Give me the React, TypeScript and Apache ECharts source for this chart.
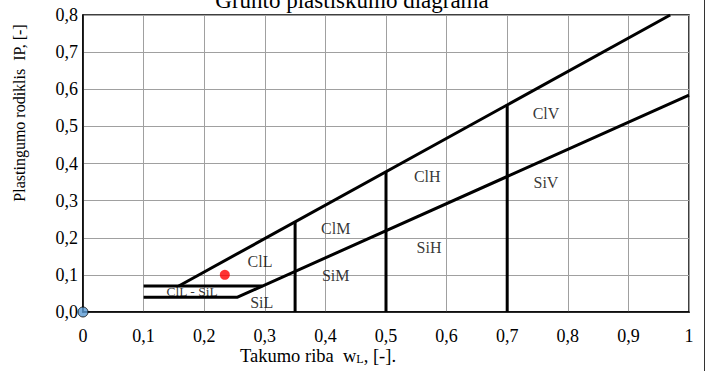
import React, { useEffect, useRef } from "react";
import * as echarts from "echarts";

const xTicks = [0, 0.1, 0.2, 0.3, 0.4, 0.5, 0.6, 0.7, 0.8, 0.9, 1];
const yTicks = [0, 0.1, 0.2, 0.3, 0.4, 0.5, 0.6, 0.7, 0.8];

// boundary lines of the plasticity chart [wL, IP]
const upperLine = [[0.158, 0.07], [0.969, 0.8]];
const aLine = [[0.1, 0.04], [0.255, 0.04], [1, 0.584]];
const clSiLine = [[0.1, 0.07], [0.296, 0.07]];
const verticalX = [0.35, 0.5, 0.7];
const verticalTop = [0.243, 0.378, 0.558];

const zoneNames = ["ClL", "SiL", "ClM", "SiM", "ClH", "SiH", "ClV", "SiV"];
const zoneX = [0.292, 0.295, 0.417, 0.417, 0.568, 0.571, 0.764, 0.764];
const zoneY = [0.135, 0.025, 0.224, 0.097, 0.364, 0.175, 0.534, 0.35];
const mixLabel = { name: "ClL - SiL", x: 0.18, y: 0.054 };

const samplePoint = [0.234, 0.1];
const originPoint = [0, 0];

const fmt = (v: number) => (v === 0 ? "0" : v === 1 ? "1" : v.toFixed(1).replace(".", ","));
const fmtY = (v: number) => v.toFixed(1).replace(".", ",");

const FONT = "Liberation Serif";

export default function App() {
  const ref = useRef<HTMLDivElement>(null);
  useEffect(() => {
    document.body.style.margin = "0";
    const chart = echarts.init(ref.current!, null, { renderer: "svg" });
    const lineStyle = { color: "#000", width: 3 };
    const mkLine = (data: number[][]) => ({
      type: "line",
      data,
      symbol: "none",
      lineStyle,
      silent: true,
      z: 3,
    });
    const series: any[] = [
      mkLine(upperLine),
      mkLine(aLine),
      mkLine(clSiLine),
      ...verticalX.map((x, i) => mkLine([[x, 0], [x, verticalTop[i]]])),
      {
        type: "scatter",
        symbolSize: 0,
        data: zoneNames.map((n, i) => ({ name: n, value: [zoneX[i], zoneY[i]] })),
        label: {
          show: true,
          position: "inside",
          formatter: "{b}",
          fontFamily: FONT,
          fontSize: 16,
          color: "#000",
        },
        z: 4,
      },
      {
        type: "scatter",
        symbolSize: 0,
        data: [{ name: mixLabel.name, value: [mixLabel.x, mixLabel.y] }],
        label: {
          show: true,
          position: "inside",
          formatter: "{b}",
          fontFamily: FONT,
          fontSize: 13.5,
          color: "#000",
        },
        z: 2,
      },
      {
        type: "scatter",
        data: [samplePoint],
        symbolSize: 10,
        itemStyle: { color: "#ff0000" },
        z: 5,
      },
      {
        type: "scatter",
        data: [originPoint],
        symbolSize: 10,
        clip: false,
        itemStyle: { color: "#5b9bd5", borderColor: "#000", borderWidth: 1 },
        z: 10,
      },
    ];
    chart.setOption({
      animation: false,
      textStyle: { fontFamily: FONT },
      grid: {
        left: 83,
        right: 18,
        top: 15,
        bottom: 59,
        show: true,
        borderColor: "#000",
        borderWidth: 1.5,
        backgroundColor: "#fff",
      },
      xAxis: {
        type: "value",
        min: xTicks[0],
        max: xTicks[xTicks.length - 1],
        interval: 0.1,
        axisLine: { show: true, lineStyle: { color: "#000", width: 1.5 } },
        axisTick: { show: false },
        axisLabel: {
          formatter: fmt,
          fontFamily: FONT,
          fontSize: 18,
          color: "#000",
          margin: 15,
        },
        splitLine: { show: true, lineStyle: { color: "#a0a0a0", width: 1 } },
      },
      yAxis: {
        type: "value",
        min: yTicks[0],
        max: yTicks[yTicks.length - 1],
        interval: 0.1,
        axisLine: { show: true, lineStyle: { color: "#000", width: 1.5 } },
        axisTick: { show: false },
        axisLabel: {
          formatter: fmtY,
          fontFamily: FONT,
          fontSize: 18,
          color: "#000",
          margin: 5,
        },
        splitLine: { show: true, lineStyle: { color: "#a0a0a0", width: 1 } },
      },
      graphic: [
        {
          type: "text",
          x: 352,
          y: 0,
          style: {
            text: "Grunto plastiškumo diagrama",
            fontFamily: FONT,
            fontSize: 23,
            fill: "#000",
            align: "center",
            verticalAlign: "middle",
          },
          z: 0,
        },
        {
          type: "text",
          x: 19,
          y: 113,
          rotation: Math.PI / 2,
          style: {
            text: "Plastingumo rodiklis  IP, [-]",
            fontFamily: FONT,
            fontSize: 16,
            fill: "#000",
            align: "center",
            verticalAlign: "middle",
          },
        },
        {
          type: "text",
          x: 240,
          y: 355,
          style: {
            text: "{a|Takumo riba  w}{b|L}{a|, [-].}",
            fontFamily: FONT,
            fill: "#000",
            verticalAlign: "middle",
            rich: {
              a: { fontFamily: FONT, fontSize: 18.5, fill: "#000", verticalAlign: "bottom", lineHeight: 20 },
              b: { fontFamily: FONT, fontSize: 12, fill: "#000", verticalAlign: "bottom", lineHeight: 15 },
            },
          },
        },
        {
          type: "line",
          shape: { x1: 704.5, y1: 0, x2: 704.5, y2: 371 },
          style: { stroke: "#333", lineWidth: 1 },
        },
      ],
      series,
    });
    return () => chart.dispose();
  }, []);
  return <div ref={ref} style={{ width: 707, height: 371 }} />;
}
